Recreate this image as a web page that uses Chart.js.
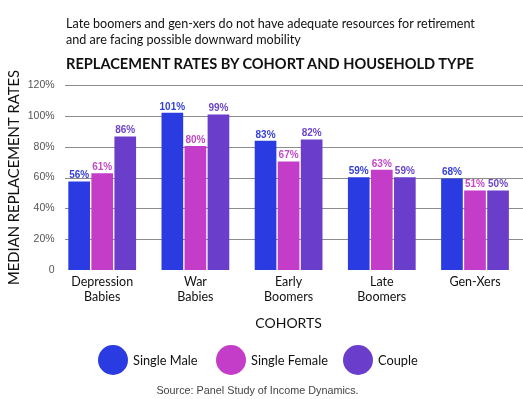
<!DOCTYPE html>
<html>
<head>
<meta charset="utf-8">
<script src="https://cdn.jsdelivr.net/npm/chart.js@4"></script>
<style>
  html, body { margin: 0; padding: 0; background: #fff; }
  #wrap { position: relative; width: 523px; height: 399px; overflow: hidden; font-family: Lato, "Open Sans", sans-serif; color: #111; }
  #chart { position: absolute; left: 0; top: 0; }
  .subtitle { position: absolute; left: 66px; top: 16px; font-size: 12.6px; line-height: 16px; white-space: nowrap; }
  .title { position: absolute; left: 66px; top: 55px; font-size: 14.6px; line-height: 18px; font-weight: bold; white-space: nowrap; }
  .leg { position: absolute; top: 345px; height: 30px; line-height: 30px; font-size: 12.8px; white-space: nowrap; }
  .leg span { position: absolute; left: 0; top: 0; width: 30px; height: 30px; border-radius: 50%; }
  .leg b { font-weight: normal; position: absolute; left: 35px; top: 0; }
  .source { position: absolute; left: 0; width: 515px; top: 383px; text-align: center; font-family: "Liberation Sans", Arial, sans-serif; font-size: 10.8px; line-height: 14px; color: #444; }
</style>
</head>
<body>
<div id="wrap">
  <canvas id="chart" width="523" height="399"></canvas>
  <div class="subtitle">Late boomers and gen-xers do not have adequate resources for retirement<br>and are facing possible downward mobility</div>
  <div class="title">REPLACEMENT RATES BY COHORT AND HOUSEHOLD TYPE</div>
  <div id="legend"></div>
  <div class="source">Source: Panel Study of Income Dynamics.</div>
</div>
<script>
// categories (multi-line labels)
const categories = [['Depression', 'Babies'], ['War', 'Babies'], ['Early', 'Boomers'], ['Late', 'Boomers'], 'Gen-Xers'];
const seriesNames = ['Single Male', 'Single Female', 'Couple'];

// bar heights as drawn (%)
const singleMale = [57.4, 102, 83.8, 60.2, 59.3];
const singleFemale = [62.8, 80.5, 70.4, 65, 51.5];
const couple = [86.6, 100.9, 84.7, 60.2, 51.5];

// printed value labels
const singleMaleLabels = ['56%', '101%', '83%', '59%', '68%'];
const singleFemaleLabels = ['61%', '80%', '67%', '63%', '51%'];
const coupleLabels = ['86%', '99%', '82%', '59%', '50%'];

// y axis ticks
const yTicks = [0, 20, 40, 60, 80, 100, 120];

const barColors = ['#2b3be2', '#c43dc8', '#6a3ecb'];
const labelColors = ['#3541d6', '#c548c4', '#6c44c9'];
const valueLabels = [singleMaleLabels, singleFemaleLabels, coupleLabels];

// legend (html)
const legendPos = [98, 216, 343];
const legend = document.getElementById('legend');
seriesNames.forEach((name, i) => {
  const d = document.createElement('div');
  d.className = 'leg';
  d.style.left = legendPos[i] + 'px';
  d.innerHTML = '<span style="background:' + barColors[i] + '"></span><b>' + name + '</b>';
  legend.appendChild(d);
});

// horizontal grid lines, starting a bit right of the axis
const gridLines = {
  id: 'gridLines',
  beforeDatasetsDraw(chart) {
    const y = chart.scales.y, ctx = chart.ctx;
    ctx.save();
    ctx.strokeStyle = '#8c8c8c';
    ctx.lineWidth = 1;
    y.ticks.forEach(t => {
      if (t.value === 0) return;
      const py = Math.round(y.getPixelForValue(t.value)) + 0.5;
      ctx.beginPath();
      ctx.moveTo(65, py);
      ctx.lineTo(chart.width, py);
      ctx.stroke();
    });
    ctx.restore();
  }
};

// value labels above bars
const barLabels = {
  id: 'barLabels',
  afterDatasetsDraw(chart) {
    const ctx = chart.ctx;
    ctx.save();
    ctx.font = 'bold 10px "Liberation Sans", Arial, sans-serif';
    ctx.textAlign = 'center';
    ctx.textBaseline = 'bottom';
    chart.data.datasets.forEach((ds, i) => {
      ctx.fillStyle = labelColors[i];
      chart.getDatasetMeta(i).data.forEach((bar, j) => {
        ctx.fillText(valueLabels[i][j], bar.x, bar.y - 1);
      });
    });
    ctx.restore();
  }
};

new Chart(document.getElementById('chart'), {
  type: 'bar',
  data: {
    labels: categories,
    datasets: [
      { label: seriesNames[0], data: singleMale, backgroundColor: barColors[0] },
      { label: seriesNames[1], data: singleFemale, backgroundColor: barColors[1] },
      { label: seriesNames[2], data: couple, backgroundColor: barColors[2] }
    ]
  },
  options: {
    responsive: false,
    animation: false,
    categoryPercentage: 0.742,
    barPercentage: 0.94,
    layout: { padding: { left: 0, right: 1.4, top: 85, bottom: 63 } },
    plugins: {
      legend: { display: false },
      tooltip: { enabled: false }
    },
    scales: {
      x: {
        grid: { display: false, drawTicks: false },
        border: { display: false },
        ticks: { color: '#111', padding: 4, font: { family: 'Lato', size: 12.5, lineHeight: 1.2 } },
        title: { display: true, text: 'COHORTS', color: '#111', font: { family: 'Lato', size: 14 }, padding: { top: 4, bottom: 4 } },
        afterFit: s => { s.height = 66; }
      },
      y: {
        min: 0,
        max: 120,
        afterBuildTicks: s => { s.ticks = yTicks.map(v => ({ value: v })); },
        grid: { display: false, drawTicks: false },
        border: { display: false },
        ticks: {
          color: '#555',
          padding: 1,
          font: { family: '"Liberation Sans", Arial, sans-serif', size: 10.5 },
          callback: v => v === 0 ? '0' : v + '%'
        },
        title: { display: true, text: 'MEDIAN REPLACEMENT RATES', color: '#111', font: { family: 'Lato', size: 14.8 }, padding: { top: 5, bottom: 0 } },
        afterFit: s => { s.width = 55.6; }
      }
    }
  },
  plugins: [gridLines, barLabels]
});
</script>
</body>
</html>
